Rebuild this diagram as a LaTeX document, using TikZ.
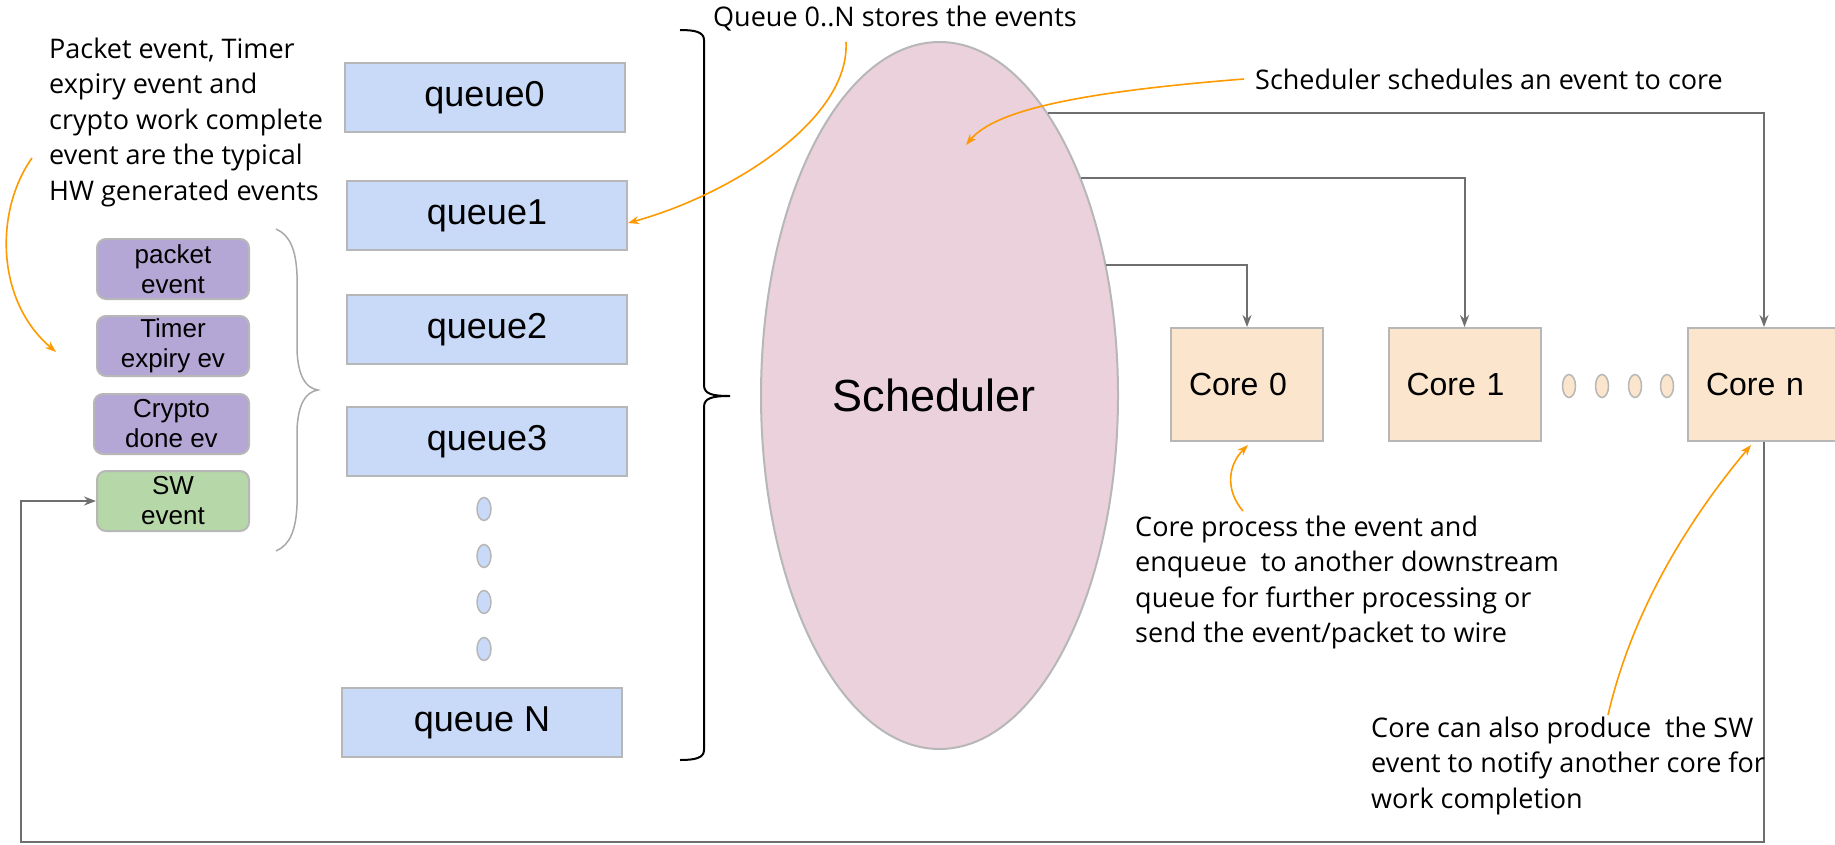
\documentclass[tikz,border=0pt]{standalone}
\usepackage{fontspec}
\setmainfont{Liberation Sans}
\newfontfamily\annotfont{Open Sans}
\usetikzlibrary{shapes.geometric,arrows.meta}
\definecolor{qblue}{HTML}{C9DAF8}
\definecolor{evpurple}{HTML}{B4A7D6}
\definecolor{evgreen}{HTML}{B6D7A8}
\definecolor{corefill}{HTML}{FCE5CD}
\definecolor{schedfill}{HTML}{EAD1DC}
\definecolor{boxborder}{HTML}{B7B7B7}
\definecolor{conn}{HTML}{6F6F6F}
\definecolor{orangeann}{HTML}{FF9900}
\definecolor{bracegrey}{HTML}{A8A8A8}
\begin{document}
\begin{tikzpicture}[x=1pt,y=-1pt,
  queuebox/.style={draw=boxborder,line width=2pt,fill=qblue,minimum width=280pt,minimum height=69pt,inner sep=0pt,font=\fontsize{36}{40}\selectfont},
  evbox/.style={draw=boxborder,line width=2pt,rounded corners=9pt,minimum width=152pt,minimum height=60pt,inner sep=0pt,align=center,font=\fontsize{26}{30}\selectfont},
  corebox/.style={draw=boxborder,line width=2pt,fill=corefill,text width=116pt,inner xsep=18pt,inner ysep=0pt,minimum height=113pt,align=left,font=\fontsize{32}{36}\selectfont},
  qdot/.style={ellipse,draw=boxborder,line width=1.5pt,fill=qblue,minimum width=14pt,minimum height=23pt,inner sep=0pt},
  cdot/.style={ellipse,draw=boxborder,line width=1.5pt,fill=corefill,minimum width=13pt,minimum height=23pt,inner sep=0pt},
  annot/.style={inner sep=0pt,font={\fontsize{27}{35.5}\selectfont\annotfont}},
  conn arrow/.style={draw=conn,line width=2pt,-{Stealth[length=12pt,width=9pt,inset=4pt]}},
  orange arrow/.style={draw=orangeann,line width=1.6pt,-{Stealth[length=11pt,width=8pt,inset=3.5pt]}}
]
\useasboundingbox (0,0) rectangle (1835,844);

% queues
\node[queuebox] (q0) at (484.5,97.5) {queue0};
\node[queuebox] (q1) at (487,215.5) {queue1};
\node[queuebox] (q2) at (487,329.5) {queue2};
\node[queuebox] (q3) at (487,441.5) {queue3};
\node[queuebox] (qN) at (482,722.5) {queue N};
\node[qdot] (qd1) at (484,509) {};
\node[qdot] (qd2) at (484,556) {};
\node[qdot] (qd3) at (484,602) {};
\node[qdot] (qd4) at (484,649) {};

% events
\node[evbox,fill=evpurple] (pkt) at (173,269) {packet\\event};
\node[evbox,fill=evpurple] (tmr) at (173,346) {Timer\\expiry ev};
\node[evbox,fill=evpurple,minimum width=155pt] (cry) at (171.5,424) {Crypto\\done ev};
\node[evbox,fill=evgreen] (sw) at (173,501) {SW\\event};

% scheduler
\node[ellipse,draw=boxborder,line width=2pt,fill=schedfill,minimum width=357pt,minimum height=707pt,inner sep=0pt,font=\fontsize{45}{50}\selectfont] (sched) at (939.5,395.5) {\hspace*{-11pt}Scheduler};

% cores
\node[corebox] (c0) at (1247,384.5) {Core 0};
\node[corebox] (c1) at (1464.5,384.5) {Core 1};
\node[corebox] (cN) at (1764,384.5) {Core n};
\node[cdot] (cd1) at (1569,386) {};
\node[cdot] (cd2) at (1602,386) {};
\node[cdot] (cd3) at (1635,386) {};
\node[cdot] (cd4) at (1667,386) {};

% scheduler to cores
\draw[conn arrow] (sched.69.75) -| (cN.north);
\draw[conn arrow] (sched.57.1) -| (c1.north);
\draw[conn arrow] (sched.38.9) -| (c0.north);

% feedback loop
\coordinate (fbcorner) at (21,842);
\draw[conn arrow] (cN.south) |- (fbcorner) |- (sw.west);

% braces
\draw[black,line width=2pt] (680,30) .. controls (695,30) and (704,32) .. (704,40) -- (704,385)
  .. controls (704,394) and (712,396) .. (730,396) .. controls (712,396) and (704,398) .. (704,407)
  -- (704,750) .. controls (704,758) and (695,760) .. (680,760);
\draw[bracegrey,line width=1.5pt] (276,229) .. controls (290,235) and (296,250) .. (297,275) -- (297,350)
  .. controls (298,375) and (305,388) .. (318,390) .. controls (305,392) and (298,405) .. (297,430)
  -- (297,505) .. controls (296,530) and (290,545) .. (276,551);

% annotation texts
\node[annot,anchor=north west,align=left] (hwtext) at (49,37.5) {Packet event, Timer\\expiry event and\\crypto work complete\\event are the typical\\HW generated events};
\node[annot,anchor=base west] (qtext) at (713,26) {Queue 0..N stores the events};
\node[annot,anchor=base west] (stext) at (1255,89) {Scheduler schedules an event to core};
\node[annot,anchor=north west,align=left] (cptext) at (1135,515.5) {Core process the event and\\enqueue\ \ to another downstream\\queue for further processing or\\send the event/packet to wire};
\node[annot,anchor=north west,align=left] (catext) at (1371,716.5) {Core can also produce\ \ the SW\\event to notify another core for\\work completion};

% orange annotation arrows
\coordinate (hwA) at (32,158);
\coordinate (hwB) at (56,352);
\draw[orange arrow] (hwA) .. controls (-5,210) and (-5,300) .. (hwB);
\coordinate (qA) at (846,42);
\coordinate (qB) at (628,223);
\draw[orange arrow] (qA) .. controls (850,120) and (730,195) .. (qB);
\coordinate (sA) at (1244,79);
\coordinate (sB) at (966,145);
\draw[orange arrow] (sA) .. controls (1080,92) and (995,110) .. (sB);
\coordinate (cpA) at (1243,511);
\coordinate (cpB) at (1248,445);
\draw[orange arrow] (cpA) .. controls (1225,490) and (1228,465) .. (cpB);
\coordinate (caA) at (1608,715);
\coordinate (caB) at (1751,445);
\draw[orange arrow] (caA) .. controls (1630,620) and (1680,530) .. (caB);
\end{tikzpicture}
\end{document}
